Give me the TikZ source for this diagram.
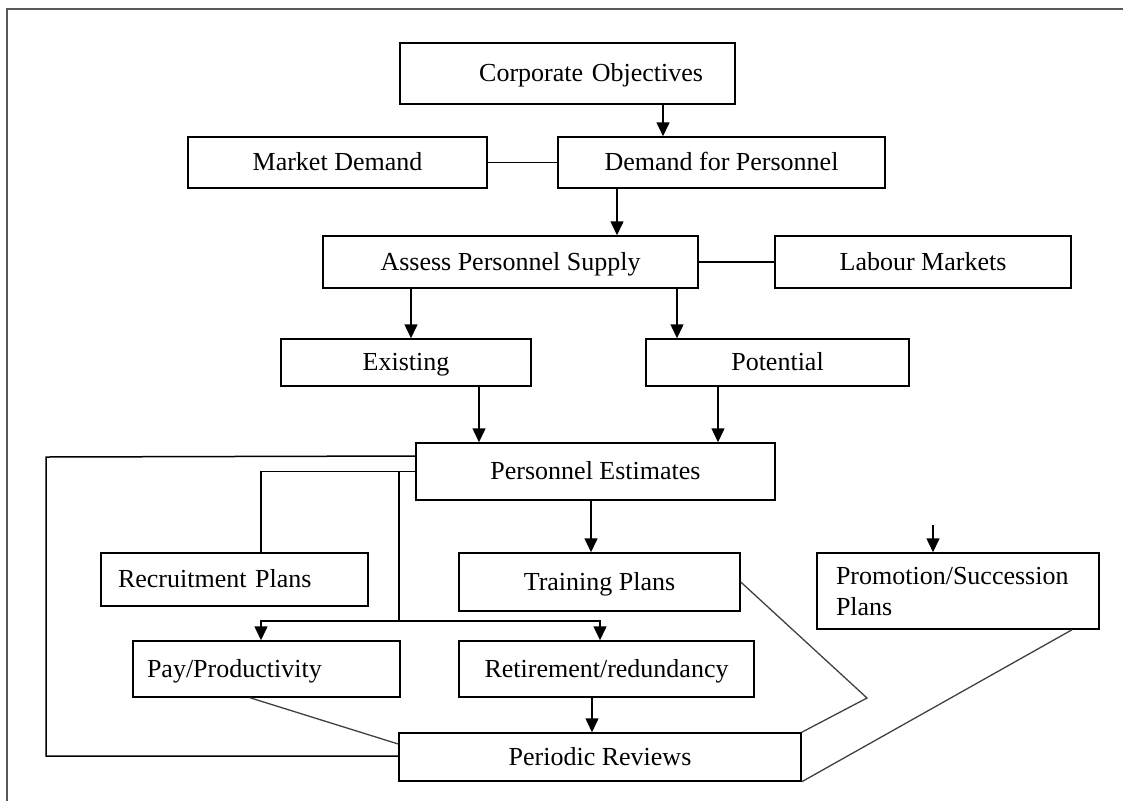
\documentclass[tikz,border=0pt]{standalone}
\usepackage{fontspec}
\setmainfont{Liberation Serif}
\usetikzlibrary{arrows.meta}

\begin{document}
\begin{tikzpicture}[x=1pt, y=-1pt,
    box/.style={draw, line width=1.5pt, inner sep=0pt, text height=18pt, text depth=2pt, font=\fontsize{26}{31}\selectfont},
    arr/.style={line width=1.5pt, -{Triangle[length=14pt, width=13pt]}},
    link/.style={line width=1.5pt},
    slant/.style={line width=1.3pt, black!75}]
  \useasboundingbox (0,0) rectangle (1123,801);
  \draw[line width=2.5pt, black!65] (7,801) -- (7,9) -- (1123,9);

  \node[box, minimum height=61pt, text width=271pt, inner xsep=32pt, align=right] (corp) at (567.5,73.5) {Corporate Objectives};
  \node[box, minimum width=299pt, minimum height=51pt] (market) at (337.5,162.5) {Market Demand};
  \node[box, minimum width=327pt, minimum height=51pt] (demand) at (721.5,162.5) {Demand for Personnel};
  \node[box, minimum width=375pt, minimum height=52pt] (assess) at (510.5,262) {Assess Personnel Supply};
  \node[box, minimum width=296pt, minimum height=52pt] (labour) at (923,262) {Labour Markets};
  \node[box, minimum width=250pt, minimum height=47pt] (existing) at (406,362.5) {Existing};
  \node[box, minimum width=263pt, minimum height=47pt] (potential) at (777.5,362.5) {Potential};
  \node[box, minimum width=359pt, minimum height=57pt] (estimates) at (595.5,471.5) {Personnel Estimates};
  \node[box, minimum height=53pt, text width=233pt, inner xsep=17pt, align=left] (recruit) at (234.5,579.5) {Recruitment Plans};
  \node[box, minimum width=281pt, minimum height=58pt] (training) at (599.5,582) {Training Plans};
  \node[box, minimum height=76pt, text width=244pt, inner xsep=19pt, align=left, text depth=32pt] (promo) at (958,591) {Promotion/Succession\\Plans};
  \node[box, minimum height=56pt, text width=239pt, inner xsep=14pt, align=left] (pay) at (266.5,669) {Pay/Productivity};
  \node[box, minimum width=295pt, minimum height=56pt] (retire) at (606.5,669) {Retirement/redundancy};
  \node[box, minimum width=402pt, minimum height=48pt] (reviews) at (600,757) {Periodic Reviews};

  \draw[arr] (663,0 |- corp.south) -- (663,0 |- demand.north);
  \draw[link] (market.east) -- (demand.west);
  \draw[arr] (617,0 |- demand.south) -- (617,0 |- assess.north);
  \draw[link] (assess.east) -- (labour.west);
  \draw[arr] (411,0 |- assess.south) -- (411,0 |- existing.north);
  \draw[arr] (677,0 |- assess.south) -- (677,0 |- potential.north);
  \draw[arr] (479,0 |- existing.south) -- (479,0 |- estimates.north);
  \draw[arr] (718,0 |- potential.south) -- (718,0 |- estimates.north);
  \draw[arr] (591,0 |- estimates.south) -- (591,0 |- training.north);

  \draw[link] (estimates.west |- 0,456) -- (46,457) -- (46,756) -- (reviews.west |- 0,756);
  \draw[link] (261,0 |- recruit.north) |- (estimates.west);
  \coordinate (split) at (399,621);
  \draw[link] (399,0 |- estimates.west) -- (split);
  \draw[arr] (split) -- (261,621) -- (261,0 |- pay.north);
  \draw[arr] (split) -- (600,621) -- (600,0 |- retire.north);
  \draw[arr] (592,0 |- retire.south) -- (592,0 |- reviews.north);

  \draw[slant] (250,0 |- pay.south) -- (reviews.west |- 0,744);
  \draw[slant] (training.east |- 0,582) -- (867,698) -- (reviews.north east);
  \draw[slant] (1072,0 |- promo.south) -- (reviews.south east);
  \coordinate (promotop) at (933,525);
  \draw[arr] (promotop) -- (promotop |- promo.north);
\end{tikzpicture}
\end{document}
